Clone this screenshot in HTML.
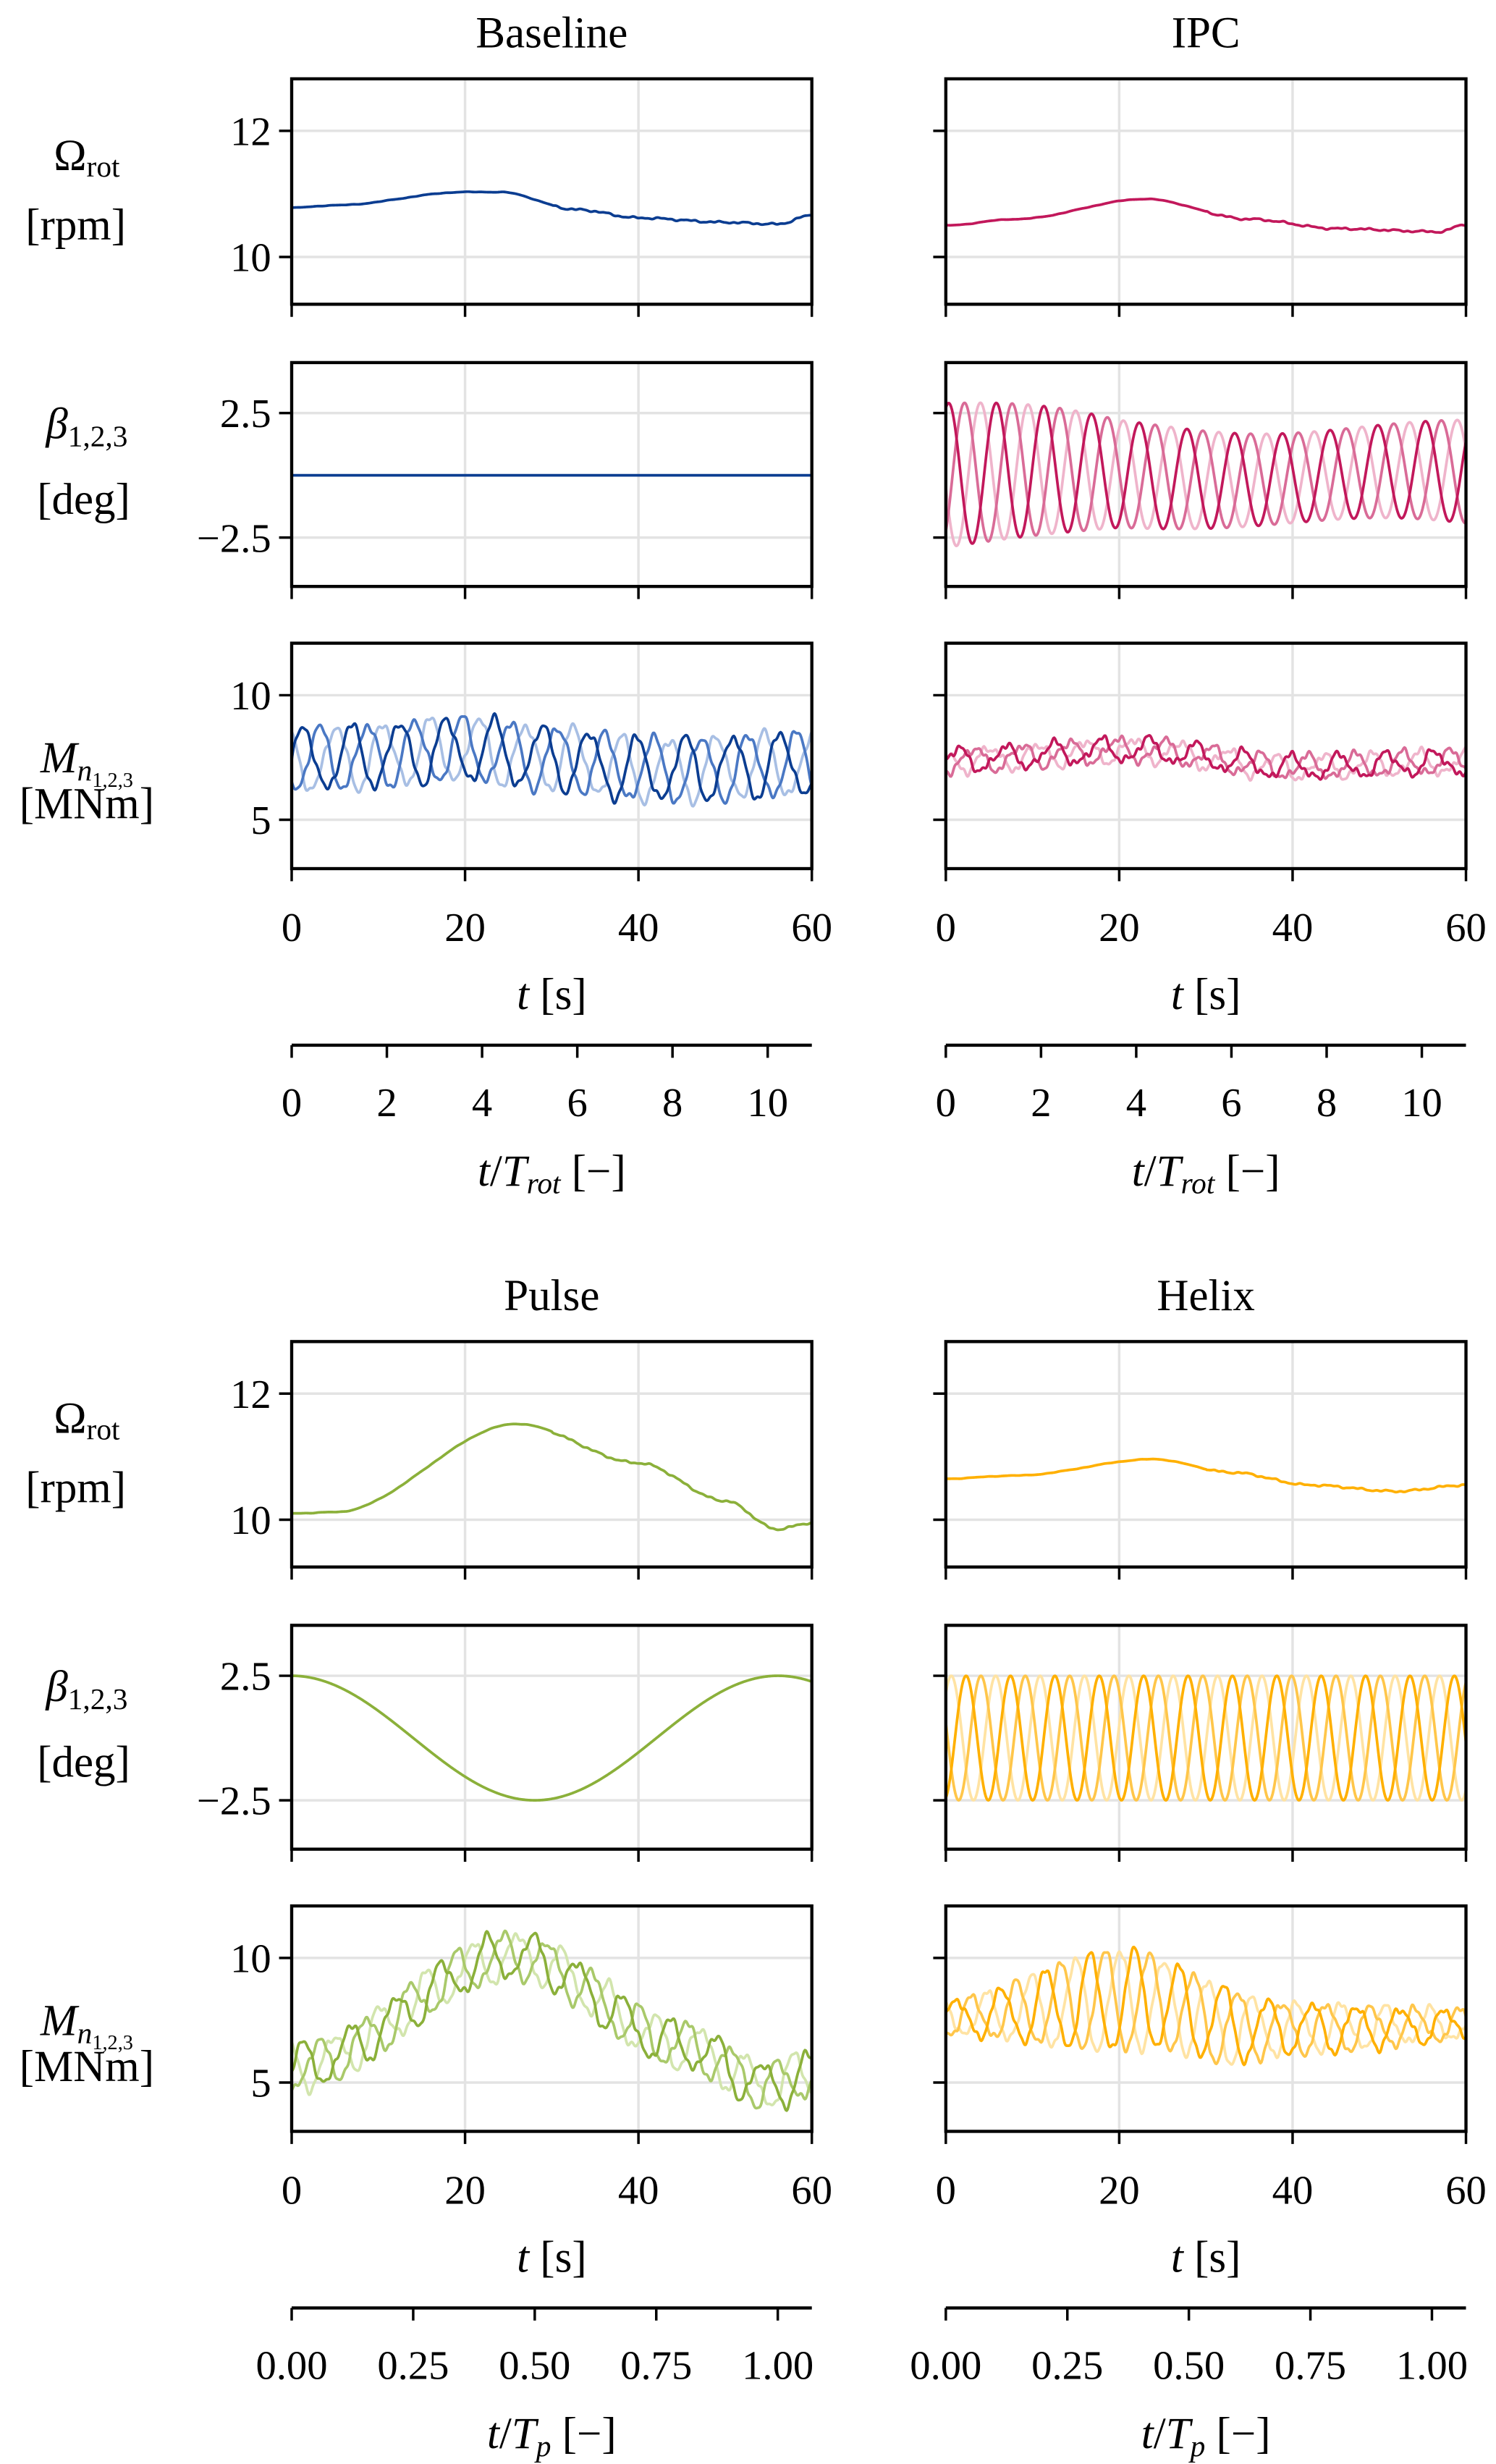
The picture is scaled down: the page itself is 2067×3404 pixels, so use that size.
<!DOCTYPE html>
<html><head><meta charset="utf-8">
<style>html,body{margin:0;padding:0;background:#fff}svg{display:block}</style>
</head><body>
<svg id="s" xmlns="http://www.w3.org/2000/svg" width="2067" height="3404" viewBox="0 0 949 1563" font-family="Liberation Serif, serif"></svg>
<script>
const S=document.getElementById('s');let out='';
const cols=[185,600],W=330;
function X(c,t){return cols[c]+t*W/60;}
function noise(t,k){return Math.sin(t*1.3+k)*0.5+Math.sin(t*2.9+2*k)*0.3+Math.sin(t*4.7+3*k)*0.2;}
function interp(pts,t){for(let i=0;i<pts.length-1;i++){const[a,va]=pts[i],[b,vb]=pts[i+1];if(t>=a&&t<=b){let u=(t-a)/(b-a);u=u*u*(3-2*u);return va+(vb-va)*u;}}return pts[pts.length-1][1];}
function path(c,f,yf,col,w){let d='';for(let i=0;i<=600;i++){const t=i*0.1;d+=(i?'L':'M')+X(c,t).toFixed(2)+' '+yf(f(t)).toFixed(2);}out+=`<path d="${d}" fill="none" stroke="${col}" stroke-width="${w||1.7}" stroke-linejoin="round"/>`;}
const pal=[['#0b3d91','#4a78c4','#a8bfe4'],['#c2185b','#d96b97','#efb4cb'],['#8bb03a','#a9c96a','#d2e5ad'],['#ffb000','#ffc64a','#ffe3a3']];
const titles=['Baseline','IPC','Pulse','Helix'];
const omega=[[[0,10.78],[5,10.82],[20,11.03],[24,11.03],[33,10.75],[40,10.62],[50,10.55],[56,10.52],[60,10.66]],
[[0,10.5],[8,10.6],[23,10.92],[35,10.6],[45,10.45],[57,10.4],[60,10.52]],
[[0,10.1],[5,10.12],[26,11.52],[40,10.9],[50,10.3],[56,9.85],[60,9.95]],
[[0,10.65],[8,10.7],[24,10.96],[33,10.75],[42,10.55],[52,10.45],[60,10.55]]];
for(let p=0;p<4;p++){
 const c=p%2,oy=p<2?0:801,x0=cols[c],x1=x0+W;
 out+=`<text x="${x0+W/2}" y="${oy+30}" font-size="28" text-anchor="middle">${titles[p]}</text>`;
 const panels=[[50,193,12.825,9.25],[230,372,0,0],[408,551,0,0]];
 panels[1]=[230,372,2.5+(262-230)/15.8,-2.5-(372-341)/15.8];
 panels[2]=[408,551,10+(441-408)/15.8,5-(551-520)/15.8];
 const ticks=[[12,10],[2.5,-2.5],[10,5]],tl=[['12','10'],['2.5','−2.5'],['10','5']];
 panels.forEach((pn,k)=>{
  const[ya,yb,va,vb]=pn,top=ya+oy,bot=yb+oy;
  const yf=v=>top+(va-v)/(va-vb)*(bot-top);
  out+=`<defs><clipPath id="c${p}${k}"><rect x="${x0}" y="${top}" width="${W}" height="${bot-top}"/></clipPath></defs>`;
  [20,40].forEach(t=>out+=`<line x1="${X(c,t)}" x2="${X(c,t)}" y1="${top}" y2="${bot}" stroke="#e3e3e3" stroke-width="1.6"/>`);
  ticks[k].forEach((v,j)=>{const y=yf(v);out+=`<line x1="${x0}" x2="${x1}" y1="${y}" y2="${y}" stroke="#e3e3e3" stroke-width="1.6"/><line x1="${x0-8}" x2="${x0}" y1="${y}" y2="${y}" stroke="#000" stroke-width="1.6"/>`;if(c==0)out+=`<text x="${x0-13}" y="${y+9}" font-size="26" text-anchor="end">${tl[k][j]}</text>`;});
  [0,20,40,60].forEach(t=>out+=`<line x1="${X(c,t)}" x2="${X(c,t)}" y1="${bot}" y2="${bot+8}" stroke="#000" stroke-width="1.6"/>`);
  out+=`<g clip-path="url(#c${p}${k})">`;
  const cl=pal[p];
  if(k==0){path(c,t=>interp(omega[p],t)+(t>30?0.02*noise(t*1.5,p):0.006*noise(t,p)),yf,cl[0]);}
  else if(k==1){
   if(p==0)path(c,t=>0,yf,cl[0]);
   else for(let j=2;j>=0;j--){
    if(p==1)path(c,t=>(2.9-0.9*Math.min(t,20)/20+0.2*Math.sin(t/9))*Math.sin(2*Math.PI*t/5.5-j*2.094+1.2)+0.2*Math.sin(t/7),yf,cl[j]);
    if(p==2){if(j==0)path(c,t=>2.5*Math.cos(2*Math.PI*t/56.1),yf,cl[0]);}
    if(p==3)path(c,t=>2.5*Math.sin(2*Math.PI*t/5.12-j*2.094-1.3),yf,cl[j]);
   }
  } else {
   for(let j=2;j>=0;j--){
    let f;
    if(p==0)f=t=>interp([[0,7.4],[20,7.8],[30,7.5],[40,7.0],[60,7.2]],t)+1.25*Math.sin(2*Math.PI*t/5.5-j*2.094)+0.3*noise(t*1.5,j);
    if(p==1)f=t=>interp([[0,7.4],[22,7.8],[40,7.1],[60,7.3]],t)+0.45*Math.sin(2*Math.PI*t/5.5-j*2.094)+0.25*noise(t*1.8,j+3);
    if(p==2)f=t=>interp([[0,5.6],[26,10.1],[45,6.5],[55,4.9],[60,5.3]],t)+0.9*Math.sin(2*Math.PI*t/5.3-j*2.094)+0.3*noise(t*1.6,j+5);
    if(p==3)f=t=>interp([[0,7.6],[22,8.3],[35,7.2],[45,7.2],[60,7.3]],t)+interp([[0,0.7],[20,2.0],[30,1.6],[40,1.0],[60,0.6]],t)*Math.sin(2*Math.PI*t/5.12-j*2.094)+0.25*noise(t*1.8,j+7);
    path(c,f,yf,cl[j]);
   }
  }
  out+=`</g><rect x="${x0}" y="${top}" width="${W}" height="${bot-top}" fill="none" stroke="#000" stroke-width="2"/>`;
 });
 [0,20,40,60].forEach(t=>out+=`<text x="${X(c,t)}" y="${oy+597}" font-size="26" text-anchor="middle">${t}</text>`);
 out+=`<text x="${x0+W/2}" y="${oy+640}" font-size="28" text-anchor="middle"><tspan font-style="italic">t</tspan> [s]</text>`;
 const ay=oy+663;
 out+=`<line x1="${x0}" x2="${x1}" y1="${ay}" y2="${ay}" stroke="#000" stroke-width="2"/>`;
 if(p<2){for(let v=0;v<=10;v+=2){const x=x0+v*30.2;out+=`<line x1="${x}" x2="${x}" y1="${ay}" y2="${ay+8}" stroke="#000" stroke-width="1.6"/><text x="${x}" y="${ay+45}" font-size="26" text-anchor="middle">${v}</text>`;}
  out+=`<text x="${x0+W/2}" y="${ay+89}" font-size="28" text-anchor="middle"><tspan font-style="italic">t</tspan>/<tspan font-style="italic">T</tspan><tspan font-style="italic" font-size="19" dy="5">rot</tspan><tspan dy="-5"> [−]</tspan></text>`;}
 else{['0.00','0.25','0.50','0.75','1.00'].forEach((s,i)=>{const x=x0+i*77.1;out+=`<line x1="${x}" x2="${x}" y1="${ay}" y2="${ay+8}" stroke="#000" stroke-width="1.6"/><text x="${x}" y="${ay+45}" font-size="26" text-anchor="middle">${s}</text>`;});
  out+=`<text x="${x0+W/2}" y="${ay+89}" font-size="28" text-anchor="middle"><tspan font-style="italic">t</tspan>/<tspan font-style="italic">T</tspan><tspan font-style="italic" font-size="19" dy="5">p</tspan><tspan dy="-5"> [−]</tspan></text>`;}
 if(c==0){
  out+=`<text x="55" y="${oy+108}" font-size="28" text-anchor="middle">Ω<tspan font-size="19" dy="4">rot</tspan></text>`;
  out+=`<text x="48" y="${oy+152}" font-size="28" text-anchor="middle">[rpm]</text>`;
  out+=`<text x="55" y="${oy+278}" font-size="28" text-anchor="middle"><tspan font-style="italic">β</tspan><tspan font-size="19" dy="5">1,2,3</tspan></text>`;
  out+=`<text x="53" y="${oy+326}" font-size="28" text-anchor="middle">[deg]</text>`;
  out+=`<text x="55" y="${oy+490}" font-size="28" text-anchor="middle"><tspan font-style="italic">M</tspan><tspan font-style="italic" font-size="19" dy="5">n</tspan><tspan font-size="13" dy="4">1,2,3</tspan></text>`;
  out+=`<text x="55" y="${oy+519}" font-size="28" text-anchor="middle">[MNm]</text>`;
 }
}
S.innerHTML=out;
</script>
</body></html>
